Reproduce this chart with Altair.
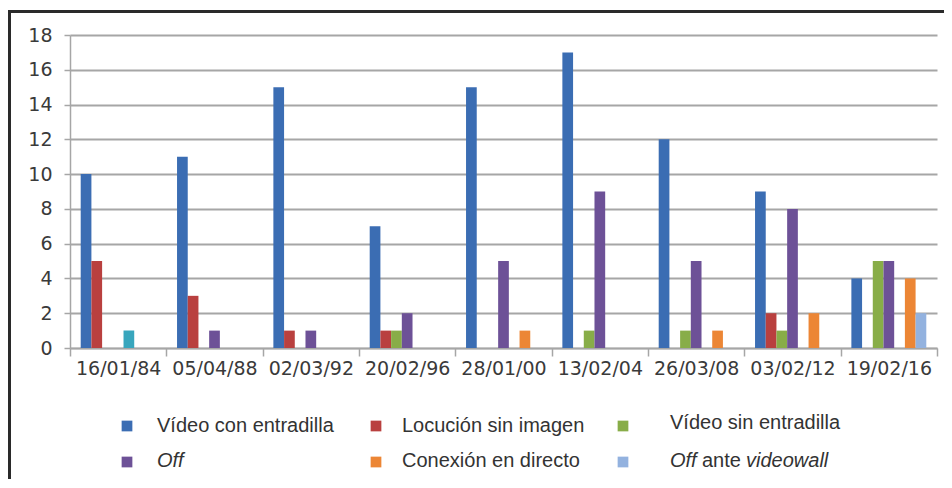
import altair as alt
import pandas as pd

# ---- data ----
DATES = ["16/01/84", "05/04/88", "02/03/92", "20/02/96", "28/01/00",
         "13/02/04", "26/03/08", "03/02/12", "19/02/16"]

SERIES = ["Vídeo con entradilla", "Locución sin imagen", "Vídeo sin entradilla",
          "Off", "Otra", "Conexión en directo", "Off ante videowall"]

VIDEO_CON_ENTRADILLA = [10, 11, 15, 7, 15, 17, 12, 9, 4]
LOCUCION_SIN_IMAGEN = [5, 3, 1, 1, 0, 0, 0, 2, 0]
VIDEO_SIN_ENTRADILLA = [0, 0, 0, 1, 0, 1, 1, 1, 5]
OFF = [0, 1, 1, 2, 5, 9, 5, 8, 5]
OTRA = [1, 0, 0, 0, 0, 0, 0, 0, 0]
CONEXION_EN_DIRECTO = [0, 0, 0, 0, 1, 0, 1, 2, 4]
OFF_ANTE_VIDEOWALL = [0, 0, 0, 0, 0, 0, 0, 0, 2]

VALUES = [VIDEO_CON_ENTRADILLA, LOCUCION_SIN_IMAGEN, VIDEO_SIN_ENTRADILLA,
          OFF, OTRA, CONEXION_EN_DIRECTO, OFF_ANTE_VIDEOWALL]

COLORS = ["#3b6db3", "#b9403f", "#88ad48", "#6d5197", "#38a6bd", "#ec8635", "#93b2df"]

# legend (6 visible entries, 3 columns x 2 rows), label text split into styled segments
LEGEND_ORDER = ["Vídeo con entradilla", "Locución sin imagen", "Vídeo sin entradilla",
                "Off", "Conexión en directo", "Off ante videowall"]
LEGEND_SEGMENTS = {
    "Vídeo con entradilla": [("Vídeo con entradilla", "normal")],
    "Locución sin imagen": [("Locución sin imagen", "normal")],
    "Vídeo sin entradilla": [("Vídeo sin entradilla", "normal")],
    "Off": [("Off", "italic")],
    "Conexión en directo": [("Conexión en directo", "normal")],
    "Off ante videowall": [("Off", "italic"), ("ante", "normal"), ("videowall", "italic")],
}

# ---- layout (pixels) ----
W, H = 867, 313
PAD = {"left": 62, "top": 27, "right": 7, "bottom": 131}
FONT_AX = "DejaVu Sans"
FONT_LEG = "Liberation Sans"
LEG_FS = 20

rows = []
for s, vals in zip(SERIES, VALUES):
    for d, v in zip(DATES, vals):
        if v > 0:
            rows.append({"Fecha": d, "Serie": s, "Valor": v})
df = pd.DataFrame(rows)

bars = alt.Chart(df).mark_bar().encode(
    x=alt.X("Fecha:N", sort=DATES,
            scale=alt.Scale(domain=DATES, paddingInner=0, paddingOuter=0),
            axis=alt.Axis(title=None, labelAngle=0, tickBand="extent", grid=False,
                          tickSize=8, labelPadding=3, labelFontSize=19)),
    xOffset=alt.XOffset("Serie:N", sort=SERIES,
                        scale=alt.Scale(domain=SERIES, paddingInner=0, paddingOuter=1.0)),
    y=alt.Y("Valor:Q", scale=alt.Scale(domain=[0, 18], nice=False),
            axis=alt.Axis(title=None, values=list(range(0, 19, 2)), grid=True,
                          tickSize=6, labelPadding=12, labelFontSize=19)),
    color=alt.Color("Serie:N", scale=alt.Scale(domain=SERIES, range=COLORS), legend=None),
)

# legend layout computed from entry index
COL_SYM_X = [57, 306, 553]
COL_LAB_X = [87, 332, 600]
ROW_Y = [391, 426]
seg_dx = {"Off ante videowall": [0, 32, 76]}

sym_rows, txt_rows = [], []
color_of = dict(zip(SERIES, COLORS))
for i, name in enumerate(LEGEND_ORDER):
    c, r = i % 3, i // 3
    sym_rows.append({"px": COL_SYM_X[c], "py": ROW_Y[r] + (1 if r else 0), "col": color_of[name]})
    segs = LEGEND_SEGMENTS[name]
    dxs = seg_dx.get(name, [0] * len(segs))
    yoff = -3 if c == 2 and r == 0 else 0
    for (t, st), dx in zip(segs, dxs):
        txt_rows.append({"px": COL_LAB_X[c] + dx, "py": ROW_Y[r] + yoff, "t": t, "st": st})

sym_df = pd.DataFrame(sym_rows)
txt_df = pd.DataFrame(txt_rows)

lx = alt.X("px:Q", scale=alt.Scale(domain=[0, W], nice=False, zero=False), axis=None)
ly = alt.Y("py:Q", scale=alt.Scale(domain=[H, 0], nice=False, zero=False), axis=None)

leg_sym = alt.Chart(sym_df).mark_square(size=115, opacity=1).encode(
    x=lx, y=ly, color=alt.Color("col:N", scale=None))

leg_txt_n = alt.Chart(txt_df).transform_filter(alt.datum.st == "normal").mark_text(
    align="left", baseline="middle", font=FONT_LEG, fontSize=LEG_FS, color="#333333"
).encode(x=lx, y=ly, text="t:N")

leg_txt_i = alt.Chart(txt_df).transform_filter(alt.datum.st == "italic").mark_text(
    align="left", baseline="middle", font=FONT_LEG, fontSize=LEG_FS, fontStyle="italic",
    color="#333333"
).encode(x=lx, y=ly, text="t:N")

border = alt.Chart(pd.DataFrame({"a": [0]})).mark_rect(
    fillOpacity=0, stroke="#2a2a2a", strokeWidth=3
).encode(x=alt.value(-60.5), x2=alt.value(900), y=alt.value(-23.5), y2=alt.value(470))

chart = alt.layer(bars, leg_sym, leg_txt_n, leg_txt_i, border).resolve_scale(
    x="independent", y="independent"
).properties(
    width=W, height=H,
    autosize=alt.AutoSizeParams(type="none"),
    padding=PAD,
    background="white",
).configure_view(strokeWidth=0).configure_axis(
    labelFont=FONT_AX, labelColor="#3a3a3a",
    domainColor="#a6a6a6", domainWidth=1.5,
    tickColor="#a6a6a6", tickWidth=1.5,
    gridColor="#a6a6a6", gridWidth=2,
)

chart.save("out.html", embed_options={"renderer": "svg", "actions": False})
